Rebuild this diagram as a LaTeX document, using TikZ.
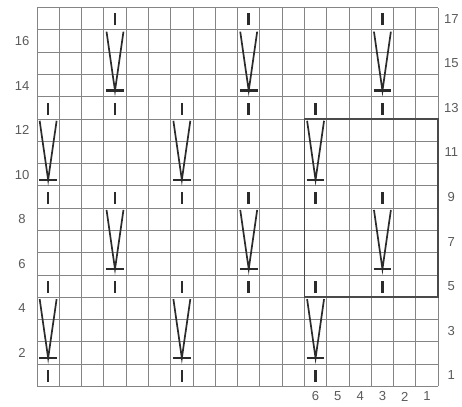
\documentclass[tikz,border=0pt]{standalone}
\usepackage{fontspec}
\setsansfont{Liberation Sans}
\usepackage{xcolor}
\definecolor{gridgray}{HTML}{858585}
\definecolor{boxgray}{HTML}{4A4A4A}
\definecolor{stitchink}{HTML}{2B2B2B}
\definecolor{labelgray}{HTML}{5A5A5A}
\usepackage{tikz}

\begin{document}
\begin{tikzpicture}[
  x=0.6cm, y=0.6cm,
  gridln/.style={draw=gridgray, line width=0.75pt},
  repbox/.style={draw=boxgray, line width=1.4pt},
  knit/.style={draw=stitchink, line width=2pt},
  vleg/.style={draw=stitchink, line width=1.3pt},
  num/.style={font=\sffamily\fontsize{10}{12}\selectfont, text=labelgray, inner sep=0pt}
]
\useasboundingbox (-1.66,-0.92) rectangle (19.07,17.34);

% chart grid, 18 sts x 17 rows
\draw[gridln, step=0.6cm] (0,0) grid (18,17);

% row numbers: even on the left, odd on the right
\foreach \r in {2,4,...,16}
  \node[num] (row\r) at (-0.67,\r-0.5) {\r};
\foreach \r in {1,3,...,17}
  \node[num] (row\r) at (18.59,\r-0.5) {\r};
% stitch numbers of the repeat
\foreach \s in {1,...,6}
  \node[num] (st\s) at (18.5-\s,-0.45) {\s};

% knit stitches
\foreach \c in {0,6,12} {
  \foreach \r in {1,5,9,13}
    \draw[knit] (\c+0.5,\r-0.8) -- (\c+0.5,\r-0.26);
}
\foreach \c in {3,9,15} {
  \foreach \r in {5,9,13,17}
    \draw[knit] (\c+0.5,\r-0.8) -- (\c+0.5,\r-0.26);
}

% elongated stitches over 3 rows
\foreach \c/\b in {0/1,6/1,12/1,0/9,6/9,12/9,3/5,9/5,15/5,3/13,9/13,15/13} {
  \draw[vleg] (\c+0.12,\b+2.92) -- (\c+0.5,\b+0.27) -- (\c+0.88,\b+2.92);
  \draw[knit] (\c+0.1,\b+0.27) -- (\c+0.9,\b+0.27);
}

% pattern repeat
\draw[repbox] (12,4) rectangle (18,12);
\end{tikzpicture}
\end{document}
